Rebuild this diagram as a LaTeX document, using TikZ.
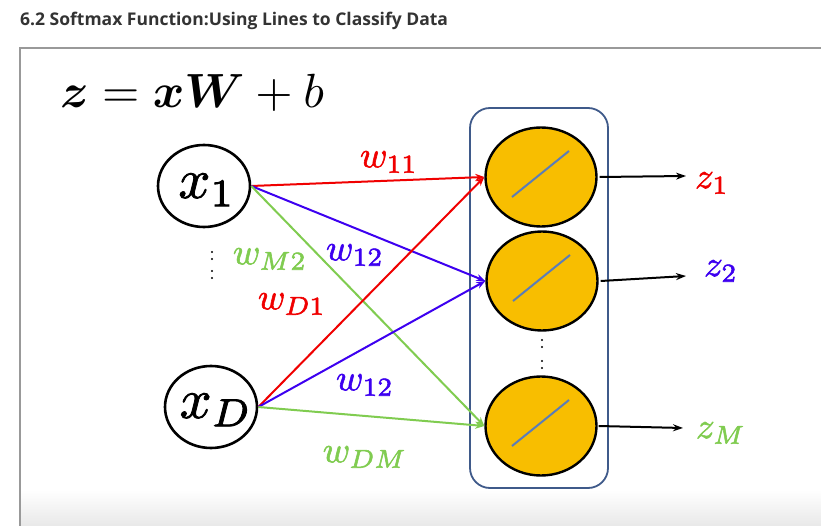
\documentclass[tikz,border=0pt]{standalone}
\usepackage{amsmath,bm}
\usepackage{fontspec}
\newfontfamily\titlefont{Open Sans}
\usetikzlibrary{shapes.geometric,arrows.meta,calc}
\definecolor{myred}{HTML}{F00000}
\definecolor{myblue}{HTML}{3D00F0}
\definecolor{mygreen}{HTML}{80CC50}
\definecolor{myyellow}{HTML}{F8BE00}
\definecolor{boxcol}{HTML}{3F5A8A}
\definecolor{slashcol}{HTML}{5B7DB8}
\definecolor{titlecol}{HTML}{333333}
\newcommand{\heavytext}[1]{\special{pdf:literal direct 2 Tr 0.15 w}#1\special{pdf:literal direct 0 Tr}}
\newcommand{\mbigtext}[2]{\scalebox{#1}{\heavytext{$#2$}}}
\newcommand{\mplaintext}[2]{\scalebox{#1}{$#2$}}
\tikzset{
  inp/.style={ellipse,draw=black,line width=2.6pt,minimum width=92pt,minimum height=82pt,inner sep=0pt},
  neuron/.style={ellipse,draw=black,line width=2.4pt,fill=myyellow,minimum width=111pt,minimum height=99pt,inner sep=0pt},
  conn/.style={line width=2pt,-{Stealth[length=9pt,width=7pt]}},
  outarr/.style={line width=2pt,-{Stealth[length=10pt,width=7pt]}},
  slash/.style={slashcol,line width=2pt},
  wlab/.style={inner sep=0pt},
  zlab/.style={inner sep=0pt},
  dotc/.style={fill=black,circle,inner sep=0pt,minimum size=2.4pt}
}
\begin{document}
\begin{tikzpicture}[x=1pt,y=-1pt]
\useasboundingbox (0,0) rectangle (821,526);
\fill[white] (0,0) rectangle (821,526);
\shade[top color=white,bottom color=black!9] (20,490) rectangle (821,526);
% frame
\draw[black!40,line width=1.2pt] (20,526) -- (20,48) -- (821,48);
% title
\node[anchor=base west,inner sep=0pt,text=titlecol] (title) at (20,26)
  {\titlefont\bfseries\fontsize{17.5}{20}\selectfont 6.2 Softmax Function:Using Lines to Classify Data};
% formula
\node[anchor=base west,inner sep=0pt] (formula) at (60,108)
  {\mplaintext{4.8}{\bm{z}=\bm{xW}+b}};
% inputs
\node[inp] (x1) at (204,186) {};
\node[inp] (xD) at (211,407) {};
\node[inner sep=0pt] (x1t) at (207,190) {\mbigtext{5.6}{x_1}};
\node[inner sep=0pt] (xDt) at (216,410) {\mbigtext{5.6}{x_D}};
% box
\draw[boxcol,line width=1.8pt,rounded corners=20pt] (470,108) rectangle (608,488);
% neurons
\node[neuron] (c1) at (541,177) {};
\node[neuron] (c2) at (542,281) {};
\node[neuron] (c3) at (541,426) {};
\foreach \c in {c1,c2,c3}{
  \draw[slash] ([shift={(-29,20)}]\c.center) -- ([shift={(28,-26)}]\c.center);
}
% dots
\foreach \yy in {252,259,271,278}{\node[dotc] at (212,\yy) {};}
\foreach \yy in {340,347,361,368}{\node[dotc] at (542,\yy) {};}
% connectors
\draw[conn,myred] (x1.east) -- (c1.west);
\draw[conn,myblue] (x1.east) -- (c2.west);
\draw[conn,mygreen] (x1.east) -- (c3.west);
\draw[conn,myred] (xD.east) -- (c1.west);
\draw[conn,myblue] (xD.east) -- (c2.west);
\draw[conn,mygreen] (xD.east) -- (c3.west);
% weight labels
\node[wlab,text=myred] (w11) at (389,162) {\mbigtext{3.7}{w_{11}}};
\node[wlab,text=myblue] (w12a) at (355,255) {\mbigtext{3.7}{w_{12}}};
\node[wlab,text=mygreen] (wM2) at (270,259) {\mbigtext{3.7}{w_{M2}}};
\node[wlab,text=myred] (wD1) at (292,304) {\mbigtext{3.7}{w_{D1}}};
\node[wlab,text=myblue] (w12b) at (365,385) {\mbigtext{3.7}{w_{12}}};
\node[wlab,text=mygreen] (wDM) at (365,457) {\mbigtext{3.7}{w_{DM}}};
% outputs
\coordinate (o1) at (686,176);
\coordinate (o2) at (686,276);
\coordinate (o3) at (683,428);
\draw[outarr] ([xshift=2pt]c1.east) -- (o1);
\draw[outarr] ([xshift=2pt]c2.east) -- (o2);
\draw[outarr] ([xshift=1pt]c3.east) -- (o3);
\node[zlab,text=myred] (z1) at (712,183) {\mbigtext{3.7}{z_1}};
\node[zlab,text=myblue] (z2) at (721,271) {\mbigtext{3.7}{z_2}};
\node[zlab,text=mygreen] (zM) at (721,433) {\mbigtext{3.7}{z_M}};
\end{tikzpicture}
\end{document}
